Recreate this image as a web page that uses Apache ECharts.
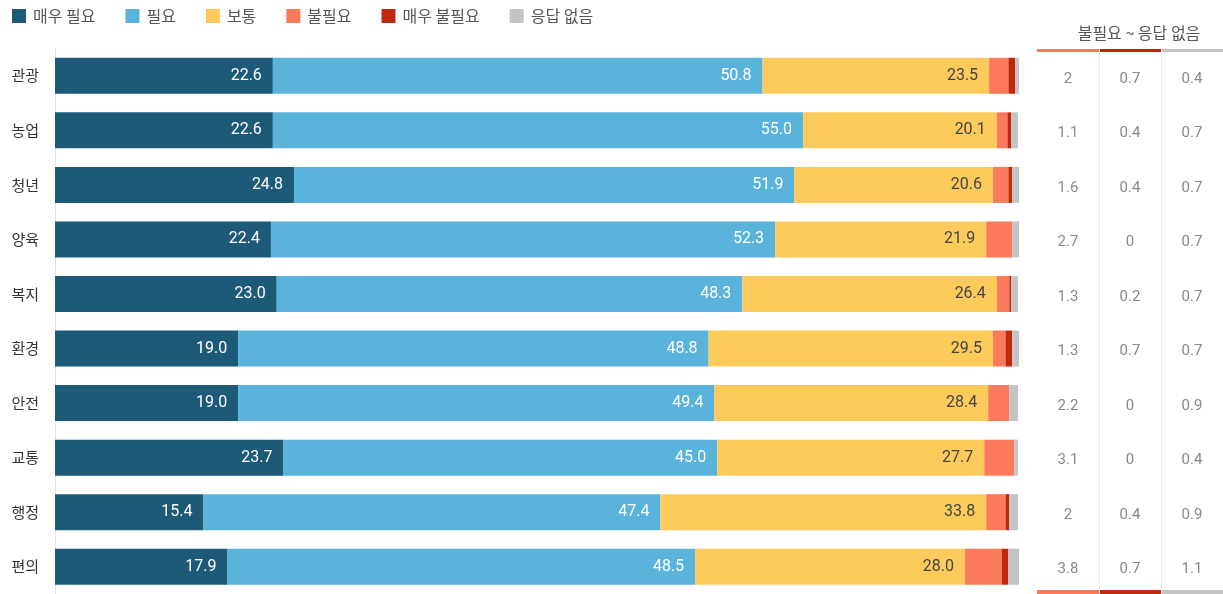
<!DOCTYPE html>
<html><head><meta charset="utf-8">
<script src="https://cdn.jsdelivr.net/npm/echarts@6/dist/echarts.min.js"></script>
<style>html,body{margin:0;padding:0;background:#fff}#c{width:1223px;height:594px}</style>
</head><body><div id="c"></div>
<script>
const categories = ['관광','농업','청년','양육','복지','환경','안전','교통','행정','편의'];
const seriesNames = ['매우 필요','필요','보통','불필요','매우 불필요','응답 없음'];
const veryNeeded = [22.6,22.6,24.8,22.4,23.0,19.0,19.0,23.7,15.4,17.9];
const needed = [50.8,55.0,51.9,52.3,48.3,48.8,49.4,45.0,47.4,48.5];
const normal = [23.5,20.1,20.6,21.9,26.4,29.5,28.4,27.7,33.8,28.0];
const notNeeded = [2,1.1,1.6,2.7,1.3,1.3,2.2,3.1,2,3.8];
const veryNotNeeded = [0.7,0.4,0.4,0,0.2,0.7,0,0,0.4,0.7];
const noAnswer = [0.4,0.7,0.7,0.7,0.7,0.7,0.9,0.4,0.9,1.1];
const tableTitle = '불필요 ~ 응답 없음';
const tableCols = ['불필요','매우 불필요','응답 없음'];

const colors = ['#1d5a78','#5ab3db','#fdcb5b','#fb7a5b','#bf2a0f','#c4c4c4'];
const allData = [veryNeeded, needed, normal, notNeeded, veryNotNeeded, noAnswer];
const labelColors = ['#fff','#fff','#444',null,null,null];

const font = 'Roboto, "Noto Sans CJK KR", sans-serif';
const krFont = '"Noto Sans CJK KR", sans-serif';
const barSeries = allData.map((d,i)=>({
  name: seriesNames[i], type:'bar', stack:'t', xAxisIndex:0, yAxisIndex:0,
  barWidth:36, data:d, itemStyle:{color:colors[i]},
  label: labelColors[i] ? {show:true, position:'insideRight', distance:11, color:labelColors[i], fontSize:16, fontFamily:font,
    formatter: p=>p.value.toFixed(1)} : {show:false},
  emphasis:{disabled:true}
}));

const tableData = [];
[notNeeded, veryNotNeeded, noAnswer].forEach((arr,ci)=>arr.forEach((v,ri)=>tableData.push([ci, ri, v])));

const chart = echarts.init(document.getElementById('c'));
chart.setOption({
  animation:false,
  textStyle:{fontFamily:font},
  title:{text:tableTitle, left:1134, top:20, textAlign:'center', textStyle:{fontSize:16, fontWeight:'normal', color:'#555', fontFamily:krFont}},
  legend:{left:12, top:8, padding:0, itemWidth:14, itemHeight:14, itemGap:30, icon:'rect', data:seriesNames,
    textStyle:{fontSize:16, color:'#555', fontFamily:krFont, padding:[0,0,0,2]}},
  grid:[
    {left:55, top:48.5, width:964, height:551},
    {left:1037, top:48.5, width:186, height:551}
  ],
  xAxis:[
    {gridIndex:0, type:'value', min:0, max:100, show:false},
    {gridIndex:1, type:'category', data:tableCols, axisLine:{show:false}, axisTick:{show:false}, axisLabel:{show:false},
      splitLine:{show:true, interval:(i)=>i===1||i===2, lineStyle:{color:'#ececec'}}}
  ],
  yAxis:[
    {gridIndex:0, type:'category', data:categories, inverse:true,
      axisLine:{show:true, lineStyle:{color:'#e3e3e3'}}, axisTick:{show:false},
      axisLabel:{color:'#333', fontSize:15, margin:16, fontFamily:krFont}},
    {gridIndex:1, type:'category', data:categories, inverse:true, show:false}
  ],
  series:[...barSeries, {
    type:'scatter', xAxisIndex:1, yAxisIndex:1, symbolSize:0, data:tableData,
    label:{show:true, position:'inside', offset:[0,3], color:'#6a6a6a', fontSize:15, fontFamily:font, formatter:p=>String(p.value[2])},
    emphasis:{disabled:true}, silent:true
  }],
  graphic:[
    {type:'rect', shape:{x:1037,y:49,width:62,height:3}, style:{fill:colors[3]}},
    {type:'rect', shape:{x:1099,y:49,width:62,height:3}, style:{fill:colors[4]}},
    {type:'rect', shape:{x:1161,y:49,width:62,height:3}, style:{fill:colors[5]}},
    {type:'rect', shape:{x:1037,y:590,width:62,height:4}, style:{fill:colors[3]}},
    {type:'rect', shape:{x:1099,y:590,width:62,height:4}, style:{fill:colors[4]}},
    {type:'rect', shape:{x:1161,y:590,width:62,height:4}, style:{fill:colors[5]}}
  ]
});
</script></body></html>
